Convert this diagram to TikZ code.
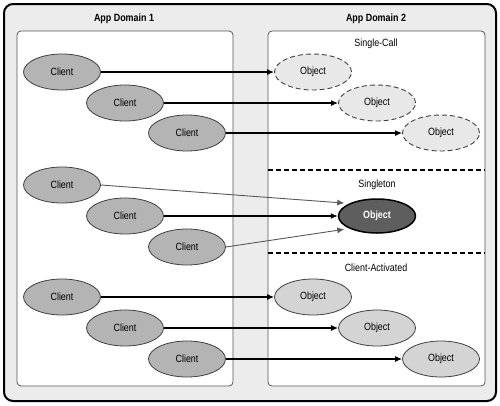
\documentclass[tikz,border=0pt]{standalone}
\usepackage{fontspec}
\setsansfont{Liberation Sans}[FakeStretch=0.85]
\usetikzlibrary{arrows.meta,shapes.geometric}
\definecolor{outerbg}{HTML}{ECECEC}
\definecolor{clientfill}{HTML}{B4B4B4}
\definecolor{scfill}{HTML}{E8E8E8}
\definecolor{cafill}{HTML}{D4D4D4}
\definecolor{sgfill}{HTML}{5E5E5E}
\definecolor{boxline}{HTML}{555555}
\tikzset{
  client/.style={ellipse,draw=black!75,line width=0.8pt,fill=clientfill,minimum width=77pt,minimum height=36pt,inner sep=0pt},
  scobj/.style={ellipse,draw=black!75,line width=0.9pt,dash pattern=on 5pt off 3pt,fill=scfill,minimum width=77pt,minimum height=36pt,inner sep=0pt},
  caobj/.style={ellipse,draw=black!75,line width=0.8pt,fill=cafill,minimum width=77pt,minimum height=36pt,inner sep=0pt},
  sgobj/.style={ellipse,draw=black,line width=1.5pt,fill=sgfill,text=white,font=\sffamily\bfseries\fontsize{10.5}{12}\selectfont,minimum width=77pt,minimum height=34pt,inner sep=0pt},
  conn/.style={line width=1.2pt,-{Latex[length=7pt,width=6pt]}},
  thinconn/.style={draw=black!65,line width=0.9pt,-{Latex[length=7pt,width=6pt]},shorten >=5pt},
  sep/.style={line width=1.2pt,dash pattern=on 5pt off 3pt},
  title/.style={font=\sffamily\bfseries\fontsize{10.5}{12}\selectfont},
  section/.style={font=\sffamily\fontsize{10.5}{12}\selectfont},
}
\begin{document}
\begin{tikzpicture}[x=1pt,y=-1pt,font=\sffamily\fontsize{10.5}{12}\selectfont]
\useasboundingbox (0,0) rectangle (500,405);
\fill[white] (0,0) rectangle (500,405);
\draw[line width=2pt,fill=outerbg,rounded corners=9pt] (4,4) rectangle (496,401);
\draw[draw=boxline,line width=0.8pt,fill=white,rounded corners=4pt] (17,31) rectangle (233,386);
\draw[draw=boxline,line width=0.8pt,fill=white,rounded corners=4pt] (268,31) rectangle (485,386);
\node[title] (t1) at (124,19) {App Domain 1};
\node[title] (t2) at (376,19) {App Domain 2};
\node[section] (l1) at (376,44) {Single-Call};
\node[section] (l2) at (377,185) {Singleton};
\node[section] (l3) at (376,268) {Client-Activated};
\coordinate (sa) at (268,170);
\coordinate (sb) at (485,170);
\coordinate (sc) at (268,253);
\coordinate (sd) at (485,253);
\draw[sep] (sa) -- (sb);
\draw[sep] (sc) -- (sd);
% clients
\node[client] (c1) at (62,72) {Client};
\node[client] (c2) at (125,103) {Client};
\node[client] (c3) at (187,133) {Client};
\node[client] (c4) at (62,185) {Client};
\node[client] (c5) at (125,216) {Client};
\node[client] (c6) at (187,247) {Client};
\node[client] (c7) at (62,297) {Client};
\node[client] (c8) at (125,328) {Client};
\node[client] (c9) at (187,359) {Client};
% objects
\node[scobj] (o1) at (313,72) {Object};
\node[scobj] (o2) at (377,103) {Object};
\node[scobj] (o3) at (441,133) {Object};
\node[sgobj] (s) at (377,216) {Object};
\node[caobj] (o7) at (313,297) {Object};
\node[caobj] (o8) at (377,328) {Object};
\node[caobj] (o9) at (441,359) {Object};
% connectors
\draw[conn] (c1) -- (o1);
\draw[conn] (c2) -- (o2);
\draw[conn] (c3) -- (o3);
\draw[thinconn] (c4.east) -- (s.north west);
\draw[conn] (c5) -- (s);
\draw[thinconn] (c6.east) -- (s.south west);
\draw[conn] (c7) -- (o7);
\draw[conn] (c8) -- (o8);
\draw[conn] (c9) -- (o9);
\end{tikzpicture}
\end{document}
